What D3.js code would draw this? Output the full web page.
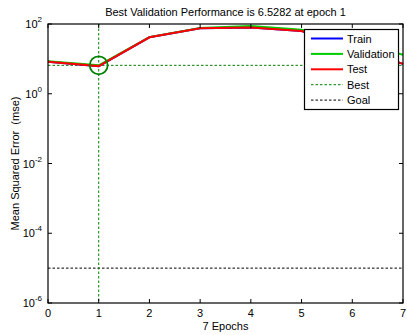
<!DOCTYPE html>
<html>
<head>
<meta charset="utf-8">
<script src="https://cdn.jsdelivr.net/npm/d3@7/dist/d3.min.js"></script>
<style>
  html, body { margin: 0; padding: 0; background: #fff; }
  svg { display: block; font-family: "Liberation Sans", Arial, sans-serif; }
</style>
</head>
<body>
<svg id="chart" width="407" height="335"></svg>
<script>
// Training record: mean squared error per epoch
const epochs     = [0, 1, 2, 3, 4, 5, 6, 7];
const trainPerf  = [8.3, 6.2, 41.5, 75, 80, 63, 22, 7.2];
const valPerf    = [8.5, 6.5282, 42, 77, 87, 68, 32, 13.2];
const testPerf   = [8.3, 6.2, 41.5, 75, 80, 63, 22, 7.2];
const bestEpoch  = 1;
const bestPerf   = 6.5282;
const goalPerf   = 1e-5;
const xTicks     = [0, 1, 2, 3, 4, 5, 6, 7];
const yTickExps  = [2, 0, -2, -4, -6];
const legendLabels = ["Train", "Validation", "Test", "Best", "Goal"];

const svg = d3.select("#chart");
const m = { left: 48, right: 403, top: 24, bottom: 303 };

const x = d3.scaleLinear().domain([0, 7]).range([m.left, m.right]);
const y = d3.scaleLog().domain([1e-6, 1e2]).range([m.bottom, m.top]);

// Title
svg.append("text")
  .attr("x", (m.left + m.right) / 2).attr("y", 16)
  .attr("text-anchor", "middle").attr("font-size", 11)
  .text(`Best Validation Performance is ${bestPerf} at epoch ${bestEpoch}`);

// Axis labels
svg.append("text")
  .attr("x", (m.left + m.right) / 2).attr("y", 330)
  .attr("text-anchor", "middle").attr("font-size", 11)
  .text(`${epochs.length - 1} Epochs`);
svg.append("text")
  .attr("transform", `translate(19,${(m.top + m.bottom) / 2}) rotate(-90)`)
  .attr("text-anchor", "middle").attr("font-size", 11)
  .style("white-space", "pre")
  .text("Mean Squared Error  (mse)");

// Plot background
svg.append("rect")
  .attr("x", m.left).attr("y", m.top)
  .attr("width", m.right - m.left).attr("height", m.bottom - m.top)
  .attr("fill", "#fff");

// Goal line
svg.append("line")
  .attr("x1", m.left).attr("x2", m.right)
  .attr("y1", y(goalPerf)).attr("y2", y(goalPerf))
  .attr("stroke", "#000").attr("stroke-width", 1).attr("stroke-dasharray", "2.5,2");

// Best lines (horizontal and vertical)
svg.append("line")
  .attr("x1", m.left).attr("x2", m.right)
  .attr("y1", y(bestPerf)).attr("y2", y(bestPerf))
  .attr("stroke", "#008000").attr("stroke-width", 1).attr("stroke-dasharray", "2.5,2");
svg.append("line")
  .attr("x1", x(bestEpoch)).attr("x2", x(bestEpoch))
  .attr("y1", m.top).attr("y2", m.bottom)
  .attr("stroke", "#008000").attr("stroke-width", 1).attr("stroke-dasharray", "2.5,2");

// Performance curves
const line = d3.line().x((d, i) => x(epochs[i])).y(d => y(d));
const series = [
  { values: trainPerf, color: "#0000ff" },
  { values: valPerf,   color: "#00cc00" },
  { values: testPerf,  color: "#ff0000" }
];
series.forEach(s => {
  svg.append("path")
    .attr("d", line(s.values))
    .attr("fill", "none").attr("stroke", s.color).attr("stroke-width", 2);
});

// Best point marker
svg.append("circle")
  .attr("cx", x(bestEpoch)).attr("cy", y(bestPerf)).attr("r", 9)
  .attr("fill", "none").attr("stroke", "#008000").attr("stroke-width", 1.8);

// Axes box with inward ticks
const axisG = svg.append("g").attr("font-size", 11);
const tickLen = 4;
xTicks.forEach(t => {
  axisG.append("line").attr("x1", x(t)).attr("x2", x(t))
    .attr("y1", m.bottom).attr("y2", m.bottom - tickLen).attr("stroke", "#000");
  axisG.append("line").attr("x1", x(t)).attr("x2", x(t))
    .attr("y1", m.top).attr("y2", m.top + tickLen).attr("stroke", "#000");
  axisG.append("text").attr("x", x(t)).attr("y", 317)
    .attr("text-anchor", "middle").text(t);
});
yTickExps.forEach(e => {
  const v = Math.pow(10, e);
  axisG.append("line").attr("x1", m.left).attr("x2", m.left + tickLen)
    .attr("y1", y(v)).attr("y2", y(v)).attr("stroke", "#000");
  axisG.append("line").attr("x1", m.right).attr("x2", m.right - tickLen)
    .attr("y1", y(v)).attr("y2", y(v)).attr("stroke", "#000");
  const lbl = axisG.append("text").attr("x", 42).attr("y", y(v) + 4)
    .attr("text-anchor", "end");
  lbl.append("tspan").text("10");
  lbl.append("tspan").attr("dy", -6).attr("font-size", 8).text(e);
});
svg.append("rect")
  .attr("x", m.left).attr("y", m.top)
  .attr("width", m.right - m.left).attr("height", m.bottom - m.top)
  .attr("fill", "none").attr("stroke", "#000").attr("stroke-width", 1.2);

// Legend
const lg = svg.append("g");
lg.append("rect").attr("x", 304.5).attr("y", 29.5).attr("width", 94).attr("height", 80)
  .attr("fill", "#fff").attr("stroke", "#000").attr("stroke-width", 1.2);
const legendStyles = [
  { color: "#0000ff", dash: null, w: 2 },
  { color: "#00cc00", dash: null, w: 2 },
  { color: "#ff0000", dash: null, w: 2 },
  { color: "#008000", dash: "2.5,2", w: 1 },
  { color: "#000000", dash: "2.5,2", w: 1 }
];
legendLabels.forEach((name, i) => {
  const yy = 38.5 + i * 15.4;
  lg.append("line").attr("x1", 311).attr("x2", 343).attr("y1", yy).attr("y2", yy)
    .attr("stroke", legendStyles[i].color).attr("stroke-width", legendStyles[i].w)
    .attr("stroke-dasharray", legendStyles[i].dash);
  lg.append("text").attr("x", 347).attr("y", yy + 4).attr("font-size", 11).text(name);
});
</script>
</body>
</html>
